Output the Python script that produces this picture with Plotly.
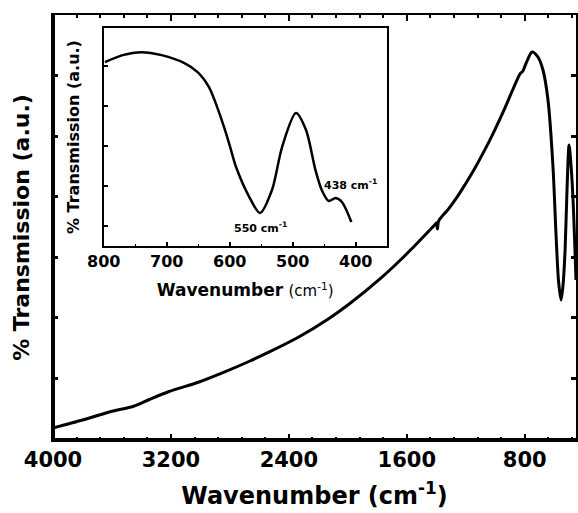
import plotly.graph_objects as go

# Main FTIR spectrum (wavenumber in cm^-1, transmission in arbitrary units)
main_wn = [4000, 3800, 3618, 3449, 3347, 3212, 3009, 2827, 2671, 2536, 2333, 2130, 1995,
           1772, 1657, 1570, 1406, 1399, 1392, 1384, 1319, 1251, 1153, 1062, 1001, 933,
           879, 832, 812, 790, 750, 710, 676, 642, 608, 588, 570, 553, 540, 526, 513,
           499, 486, 472, 452]
main_tr = [12, 20, 28, 34, 40.5, 48.5, 58, 68.6, 78.5, 87.8, 103, 121.3, 135.5,
           162.4, 178, 190.7, 215.9, 217, 211, 219, 230.7, 244.7, 267.9, 292.6, 310.7, 332.4,
           351, 366, 369, 377, 388, 383, 370, 340, 273, 207, 158, 140, 155, 190, 250,
           295, 275, 240, 160]

# Inset: 800-400 cm^-1 region
inset_wn = [798, 770, 740, 708, 672, 651, 633, 620, 606, 598, 590, 569, 552, 533, 517,
            495, 479, 464, 454, 443, 432, 422, 407]
inset_tr = [184, 191, 194, 191, 183, 174, 159, 139, 113, 96, 79, 49, 33, 56, 99,
            133, 116, 76, 56, 45, 48, 44, 24]

main_xticks = [4000, 3200, 2400, 1600, 800]
inset_xticks = [800, 700, 600, 500, 400]

FONT = "DejaVu Sans"

fig = go.Figure()
fig.add_trace(go.Scatter(x=main_wn, y=main_tr, mode="lines",
                         line=dict(color="black", width=3, shape="spline", smoothing=0.8),
                         xaxis="x", yaxis="y", showlegend=False))
fig.add_trace(go.Scatter(x=inset_wn, y=inset_tr, mode="lines",
                         line=dict(color="black", width=2.5, shape="spline", smoothing=0.8),
                         xaxis="x2", yaxis="y2", showlegend=False))

fig.update_layout(
    width=578, height=513,
    margin=dict(l=53, r=0, t=15, b=73),
    paper_bgcolor="white", plot_bgcolor="white",
    font=dict(family=FONT, color="black"),
    xaxis=dict(domain=[0, 1], range=[4000, 452], tickvals=main_xticks,
               ticktext=[f"<b>{v}</b>" for v in main_xticks],
               ticks="inside", ticklen=6, tickwidth=2, tickcolor="black",
               minor=dict(tickvals=list(range(3840, 452, -160)), ticks="inside",
                          ticklen=3, tickwidth=1.5, tickcolor="black"),
               showline=True, linewidth=2, linecolor="black", mirror="ticks",
               showgrid=False, zeroline=False,
               tickfont=dict(size=21, family=FONT),
               title=dict(text="<b>Wavenumber (cm<sup>-1</sup>)</b>",
                          font=dict(size=24, family=FONT), standoff=16)),
    yaxis=dict(domain=[0, 1], range=[0, 425],
               tickvals=[62, 122.5, 183, 243.5, 304, 364.5],
               showticklabels=False,
               ticks="inside", ticklen=5, tickwidth=3, tickcolor="black",
               showline=True, linewidth=2, linecolor="black", mirror="ticks",
               showgrid=False, zeroline=False,
               title=dict(text="<b>% Transmission (a.u.)</b>",
                          font=dict(size=22, family=FONT), standoff=15)),
    xaxis2=dict(domain=[0.097, 0.638], anchor="y2", range=[800, 351],
                tickvals=inset_xticks, ticktext=[f"<b>{v}</b>" for v in inset_xticks],
                ticks="inside", ticklen=4, tickwidth=1.5, tickcolor="black",
                minor=dict(tickvals=[750, 650, 550, 450], ticks="inside",
                           ticklen=2, tickwidth=1, tickcolor="black"),
                showline=True, linewidth=2, linecolor="black", mirror=True,
                showgrid=False, zeroline=False,
                tickfont=dict(size=16, family=FONT),
                title=dict(text="<b>Wavenumber</b> <span style='font-size:15px'>(cm<sup>-1</sup>)</span>",
                           font=dict(size=17, family=FONT), standoff=14)),
    yaxis2=dict(domain=[0.4565, 0.969], anchor="x2", range=[0, 218],
                tickvals=[20, 60, 100, 140, 180], showticklabels=False,
                ticks="inside", ticklen=4, tickwidth=1.5, tickcolor="black",
                showline=True, linewidth=2, linecolor="black", mirror=True,
                showgrid=False, zeroline=False,
                title=dict(text="<b>% Transmission (a.u.)</b>",
                           font=dict(size=16, family=FONT), standoff=18)),
    shapes=[
        dict(type="line", xref="paper", yref="paper", x0=0, x1=1, y0=0, y1=0,
             line=dict(color="black", width=4)),
        dict(type="line", xref="paper", yref="paper", x0=0, x1=0, y0=0, y1=1,
             line=dict(color="black", width=4)),
    ],
    annotations=[
        dict(x=552, y=28, xref="x2", yref="y2", text="<b>550 cm<sup>-1</sup></b>",
             showarrow=False, yanchor="top", font=dict(size=11, family=FONT)),
        dict(x=408, y=52, xref="x2", yref="y2", text="<b>438 cm<sup>-1</sup></b>",
             showarrow=False, yanchor="bottom", font=dict(size=11, family=FONT)),
    ],
)

fig.write_html("out.html")
